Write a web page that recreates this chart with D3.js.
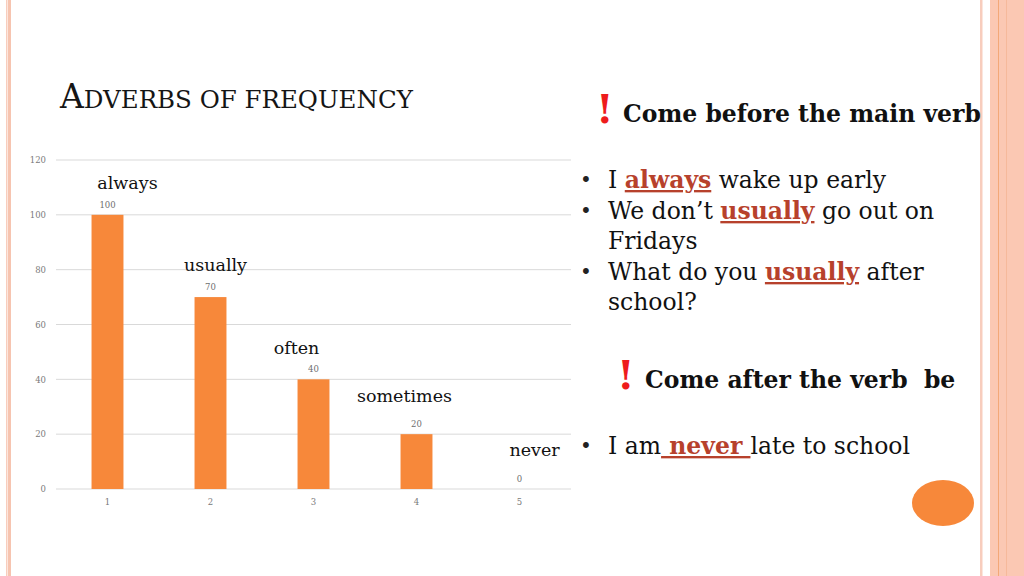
<!DOCTYPE html>
<html>
<head>
<meta charset="utf-8">
<script src="https://cdn.jsdelivr.net/npm/d3@7"></script>
<style>
  body { margin: 0; background: #fff; }
  svg text { font-family: "DejaVu Serif", serif; }
</style>
</head>
<body>
<div id="slide"></div>
<script>
// chart data
const categories = ["1", "2", "3", "4", "5"];
const values = [100, 70, 40, 20, 0];
const words = ["always", "usually", "often", "sometimes", "never"];
const yTicks = [0, 20, 40, 60, 80, 100, 120];

(function(){

  const svgWidth = 1024, svgHeight = 576;
  const margin = { top: 160, left: 56, right: 453, bottom: 87 };
  const width = svgWidth - margin.left - margin.right;
  const height = svgHeight - margin.top - margin.bottom;

  const orange = "#f7883a";
  const red = "#b7412c";

  const svg = d3.select("#slide").append("svg")
    .attr("width", svgWidth).attr("height", svgHeight);

  // slide frame stripes
  svg.append("rect").attr("x", 6).attr("y", 0).attr("width", 1.5).attr("height", svgHeight).attr("fill", "#f8cdbd");
  svg.append("rect").attr("x", 8).attr("y", 0).attr("width", 3).attr("height", svgHeight).attr("fill", "#f6c4b0");
  svg.append("rect").attr("x", 980).attr("y", 0).attr("width", 2.5).attr("height", svgHeight).attr("fill", "#f8cdbd");
  svg.append("rect").attr("x", 990).attr("y", 0).attr("width", 34).attr("height", svgHeight).attr("fill", "#fbc8b3");
  svg.append("rect").attr("x", 998).attr("y", 0).attr("width", 1).attr("height", svgHeight).attr("fill", "#f3a878");
  svg.append("rect").attr("x", 1006).attr("y", 0).attr("width", 1).attr("height", svgHeight).attr("fill", "#f6b99b");

  // title in small caps
  const title = svg.append("text").attr("x", 60).attr("y", 108).attr("fill", "#151515");
  title.append("tspan").attr("font-size", 33).text("A");
  title.append("tspan").attr("font-size", 24.5).text("DVERBS OF FREQUENCY");

  // chart
  const chart = svg.append("g").attr("transform", `translate(${margin.left}, ${margin.top})`);

  const x = d3.scaleBand().domain(categories).range([0, width]).paddingInner(0.69).paddingOuter(0.345);
  const y = d3.scaleLinear().domain([0, 120]).range([height, 0]);

  // gridlines
  chart.append("g").selectAll("line").data(yTicks).join("line")
    .attr("x1", 0).attr("x2", width)
    .attr("y1", d => y(d)).attr("y2", d => y(d))
    .attr("stroke", "#d9d9d9").attr("stroke-width", 1);

  const yAxis = chart.append("g").call(d3.axisLeft(y).tickValues(yTicks).tickSize(0).tickPadding(10));
  yAxis.select(".domain").remove();
  yAxis.selectAll("text").attr("font-family", "DejaVu Serif").attr("font-size", 8.5).attr("fill", "#7a7a7a");

  const xAxis = chart.append("g").attr("transform", `translate(0, ${height})`)
    .call(d3.axisBottom(x).tickSize(0).tickPadding(10));
  xAxis.select(".domain").remove();
  xAxis.selectAll("text").attr("font-family", "DejaVu Serif").attr("font-size", 8.5).attr("fill", "#7a7a7a");

  chart.append("g").selectAll("rect").data(values).join("rect")
    .attr("x", (d, i) => x(categories[i]))
    .attr("y", d => y(d))
    .attr("width", x.bandwidth())
    .attr("height", d => height - y(d))
    .attr("fill", orange);

  // value labels
  chart.append("g").selectAll("text").data(values).join("text")
    .attr("x", (d, i) => x(categories[i]) + x.bandwidth() / 2)
    .attr("y", d => y(d) - 7)
    .attr("text-anchor", "middle")
    .attr("font-size", 8.5).attr("fill", "#6e6e6e")
    .text(d => d);

  // word text boxes over the bars
  const wordDx = [20, 5, -17, -12, 15];
  const wordDy = [-26, -26, -25, -32, -33];
  chart.append("g").selectAll("text").data(words).join("text")
    .attr("x", (d, i) => x(categories[i]) + x.bandwidth() / 2 + wordDx[i])
    .attr("y", (d, i) => y(values[i]) + wordDy[i])
    .attr("text-anchor", "middle")
    .attr("font-size", 17.5).attr("fill", "#111")
    .text(d => d);

  // right hand notes
  function heading(yPos, xBang, xText, txt) {
    svg.append("text").attr("x", xBang).attr("y", yPos + 1).attr("font-size", 40)
      .attr("font-weight", "bold").attr("fill", "#ee1c1c").text("!");
    svg.append("text").attr("x", xText).attr("y", yPos).attr("font-size", 23.5)
      .attr("font-weight", "bold").attr("fill", "#111").text(txt);
  }
  heading(122, 596, 623, "Come before the main verb");
  heading(388, 617, 645, "Come after the verb\u00a0 be");

  const bulletLines = [
    { y: 188, bullet: true, parts: [["I ", false], ["always", true], [" wake up early", false]] },
    { y: 219, bullet: true, parts: [["We don\u2019t ", false], ["usually", true], [" go out on", false]] },
    { y: 249, bullet: false, parts: [["Fridays", false]] },
    { y: 280, bullet: true, parts: [["What do you ", false], ["usually", true], [" after", false]] },
    { y: 310, bullet: false, parts: [["school?", false]] },
    { y: 454, bullet: true, parts: [["I am", false], ["\u00a0never\u00a0", true], ["late to school", false]] }
  ];

  bulletLines.forEach(function(line){
    if (line.bullet) {
      svg.append("text").attr("x", 580).attr("y", line.y - 1).attr("font-size", 20)
        .attr("fill", "#222").text("\u2022");
    }
    const t = svg.append("text").attr("x", 608).attr("y", line.y)
      .attr("font-size", 23.5).attr("fill", "#111");
    line.parts.forEach(function(p){
      const s = t.append("tspan").text(p[0]);
      if (p[1]) {
        s.attr("fill", red).attr("font-weight", "bold").style("text-decoration", "underline");
      }
    });
  });

  // orange dot
  svg.append("ellipse").attr("cx", 943).attr("cy", 503).attr("rx", 31).attr("ry", 23).attr("fill", orange);

})();
</script>
</body>
</html>
